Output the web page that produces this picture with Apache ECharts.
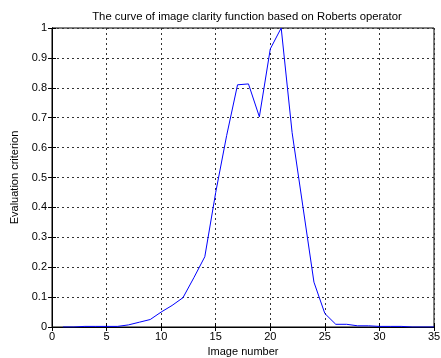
<!DOCTYPE html>
<html>
<head>
<meta charset="utf-8">
<script src="https://cdn.jsdelivr.net/npm/echarts@6/dist/echarts.min.js"></script>
<style>
  html, body { margin: 0; padding: 0; background: #fff; }
  #chart { width: 441px; height: 358px; }
</style>
</head>
<body>
<div id="chart"></div>
<script>
// image number on x, clarity score on y
const imageNumbers = [1, 2, 3, 4, 5, 6, 7, 8, 9, 10, 11, 12, 13, 14, 15, 16, 17, 18,
  19, 20, 21, 22, 23, 24, 25, 26, 27, 28, 29, 30, 31, 32, 33, 34, 35];
const clarity = [0, 0, 0.002, 0.002, 0.002, 0.002, 0.007, 0.016, 0.025, 0.05, 0.072, 0.098,
  0.165, 0.235, 0.45, 0.64, 0.81, 0.813, 0.703, 0.93, 1.0, 0.65, 0.40, 0.15, 0.045,
  0.009, 0.009, 0.004, 0.004, 0.002, 0.002, 0.002, 0, 0, 0];

const titleText = 'The curve of image clarity function based on Roberts operator';
const xName = 'Image number';
const yName = 'Evaluation criterion';

const font = 'Liberation Sans, Arial, sans-serif';
const gridLine = { show: true, lineStyle: { color: '#333', type: [2, 3], width: 1 } };

const chart = echarts.init(document.getElementById('chart'));

const option = {
  animation: false,
  backgroundColor: '#fff',
  title: {
    text: titleText,
    left: 242,
    textAlign: 'center',
    top: 6,
    textStyle: { fontFamily: font, fontSize: 11.3, fontWeight: 'normal', color: '#000' },
  },
  grid: {
    left: 52, right: 7, top: 28, bottom: 31,
    outerBoundsMode: 'none',
    containLabel: false,
    show: true, borderColor: '#000', borderWidth: 1, backgroundColor: '#fff',
  },
  xAxis: [
    {
      type: 'value',
      min: 0,
      max: 35,
      interval: 5,
      name: xName,
      nameLocation: 'middle',
      nameGap: 18,
      nameTextStyle: { fontFamily: font, fontSize: 11, color: '#000' },
      axisLine: { lineStyle: { color: '#000' } },
      axisTick: { inside: true, length: 4, lineStyle: { color: '#000' } },
      axisLabel: { fontFamily: font, fontSize: 11, color: '#000', margin: 4 },
      splitLine: gridLine,
    },
    {
      type: 'value',
      position: 'top',
      min: 0,
      max: 35,
      interval: 5,
      axisLine: { lineStyle: { color: '#000' } },
      axisTick: { inside: true, length: 4, lineStyle: { color: '#000' } },
      axisLabel: { show: false },
      splitLine: { show: false },
    },
  ],
  yAxis: [
    {
      type: 'value',
      min: 0,
      max: 1,
      interval: 0.1,
      name: yName,
      nameLocation: 'middle',
      nameGap: 24,
      nameTextStyle: { fontFamily: font, fontSize: 11, color: '#000' },
      axisLine: { lineStyle: { color: '#000' } },
      axisTick: { inside: true, length: 4, lineStyle: { color: '#000' } },
      axisLabel: { fontFamily: font, fontSize: 11, color: '#000', margin: 5 },
      splitLine: gridLine,
    },
    {
      type: 'value',
      position: 'right',
      min: 0,
      max: 1,
      interval: 0.1,
      axisLine: { lineStyle: { color: '#000' } },
      axisTick: { inside: true, length: 4, lineStyle: { color: '#000' } },
      axisLabel: { show: false },
      splitLine: { show: false },
    },
  ],
  series: [
    {
      type: 'line',
      data: imageNumbers.map((x, i) => [x, clarity[i]]),
      showSymbol: false,
      lineStyle: { color: '#0000ff', width: 1 },
      itemStyle: { color: '#0000ff' },
    },
  ],
};

chart.setOption(option);
</script>
</body>
</html>
